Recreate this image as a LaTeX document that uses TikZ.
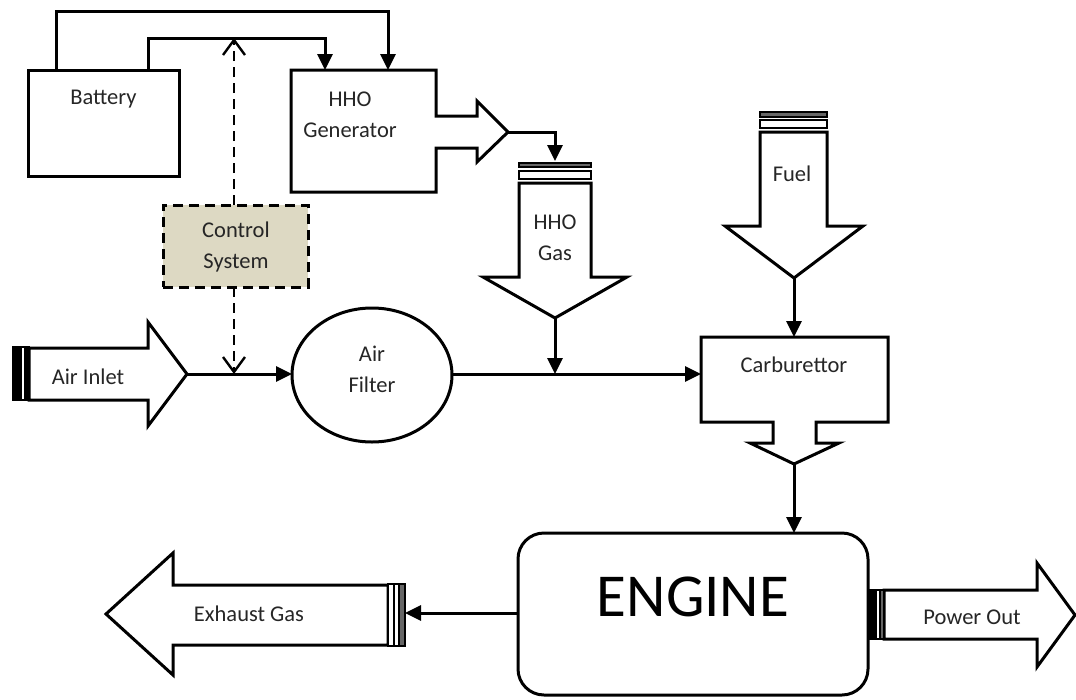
\documentclass[tikz,border=0pt]{standalone}
\usepackage{fontspec}
\setmainfont{Carlito}
\usetikzlibrary{arrows.meta,shapes.geometric}
\definecolor{ctrlfill}{HTML}{DDD9C3}
\definecolor{txtc}{HTML}{262626}
\tikzset{
  shape line/.style={draw=black, line width=3pt, line join=miter, fill=white},
  wire/.style={draw=black, line width=3pt, -{Triangle[length=16pt,width=15pt]}},
  ctrl wire/.style={draw=black, line width=2.6pt, dash pattern=on 10pt off 6pt, -{Straight Barb[length=15pt,width=22pt,line width=2.4pt]}},
  lbl/.style={text=txtc, font=\fontsize{22.5}{24}\selectfont, inner sep=0pt},
  capgray/.style={draw=black, line width=2pt, fill=black!60},
  capwhite/.style={draw=black, line width=2pt, fill=white},
  capblack/.style={draw=black, line width=2pt, fill=black},
}
\begin{document}
\begin{tikzpicture}[x=1pt,y=-1pt]
\useasboundingbox (0,0) rectangle (1076,699);

% Battery
\node[shape line, minimum width=151pt, minimum height=106pt, inner sep=0pt] (bat) at (103.5,123) {};
\node[lbl] (batlbl) at (103.5,99) {Battery};

% HHO generator with outlet arrow
\draw[shape line] (291,70) -- (436,70) -- (436,116) -- (477,116) -- (477,101) -- (508,132)
  -- (477,162) -- (477,148) -- (436,148) -- (436,192) -- (291,192) -- cycle;
\coordinate (hhotip) at (508,132);
\node[lbl, align=center] (hholbl) at (350,115) {HHO\\[7pt]Generator};

% Wires from battery to generator
\coordinate (batA) at (56,70);
\coordinate (batB) at (148,70);
\coordinate (genA) at (388,70);
\coordinate (genB) at (325,70);
\draw[wire] (batA) -- (56,11) -- (388,11) -- (genA);
\draw[wire] (batB) -- (148,38) -- (325,38) -- (genB);
\coordinate (ctrltop) at (234,38);

% HHO gas arrow
\draw[capgray] (519,163) rectangle (591,167);
\draw[capwhite] (519,171) rectangle (591,179);
\draw[shape line] (519,183) -- (591,183) -- (591,277) -- (627,277) -- (555,318) -- (483,277) -- (519,277) -- cycle;
\coordinate (gastop) at (555,161);
\coordinate (gastip) at (555,318);
\node[lbl, align=center] (gaslbl) at (555,238) {HHO\\[7pt]Gas};
\draw[wire] (hhotip) -- (555,132) -- (gastop);

% Fuel arrow
\draw[capgray] (760,112) rectangle (827,117);
\draw[capwhite] (760,120) rectangle (827,128);
\draw[shape line] (760,132) -- (827,132) -- (827,226) -- (863,226) -- (794,278) -- (725,226) -- (760,226) -- cycle;
\coordinate (fueltip) at (794,278);
\node[lbl] (fuellbl) at (792,174) {Fuel};

% Carburettor
\draw[shape line] (701,337) -- (888,337) -- (888,422) -- (816,422) -- (816,443) -- (839,443) -- (794,464)
  -- (750,443) -- (773,443) -- (773,422) -- (701,422) -- cycle;
\coordinate (carbtop) at (794,337);
\coordinate (carbleft) at (701,374);
\coordinate (carbtip) at (794,464);
\node[lbl] (carblbl) at (794,365) {Carburettor};
\draw[wire] (fueltip) -- (carbtop);

% Air inlet
\draw[shape line] (29,348) -- (148,348) -- (148,322) -- (187,374) -- (148,426) -- (148,400) -- (29,400) -- cycle;
\draw[capblack] (13,347) rectangle (21,400);
\draw[capwhite] (21,347) rectangle (25,400);
\draw[capblack] (25,347) rectangle (29,400);
\coordinate (airtip) at (187,374);
\node[lbl] (airlbl) at (88,377) {Air Inlet};

% Air filter
\node[shape line, ellipse, minimum width=160pt, minimum height=134pt, inner sep=0pt] (filter) at (372,375) {};
\node[lbl, align=center] (filterlbl) at (372,369) {Air\\[7pt]Filter};

\coordinate (filterL) at (292,374);
\coordinate (filterR) at (452,374);
\coordinate (join) at (555,374);
\draw[wire] (airtip) -- (filterL);
\draw[wire] (filterR) -- (carbleft);
\draw[wire] (gastip) -- (join);

% Control system
\node[draw=black, line width=3pt, dash pattern=on 10pt off 6pt, fill=ctrlfill, minimum width=145pt, minimum height=82pt, inner sep=0pt] (ctrl) at (235.5,246) {};
\node[lbl, align=center] (ctrllbl) at (236,247) {Control\\[7pt]System};
\coordinate (ctrlbottom) at (234,374);
\draw[ctrl wire] (234,205) -- (ctrltop);
\draw[ctrl wire] (234,287) -- (ctrlbottom);

% Engine
\draw[shape line, rounded corners=26pt] (518,533) rectangle (868,695);
\coordinate (engtop) at (794,533);
\coordinate (engleft) at (518,613);
\node[text=black, font=\fontsize{61}{64}\selectfont, inner sep=0pt] (englbl) at (693,597) {ENGINE};
\draw[wire] (carbtip) -- (engtop);

% Exhaust gas
\draw[shape line] (388,585) -- (173,585) -- (173,553) -- (106,614) -- (173,675) -- (173,645) -- (388,645) -- cycle;
\draw[capwhite] (388,584) rectangle (394,646);
\draw[capwhite] (394,584) rectangle (399,646);
\draw[capgray] (399,584) rectangle (405,646);
\coordinate (exhcap) at (405,613);
\node[lbl] (exhlbl) at (249,614) {Exhaust Gas};
\draw[wire] (engleft) -- (exhcap);

% Power out
\draw[shape line] (884,590) -- (1037,590) -- (1037,563) -- (1075,615) -- (1037,667) -- (1037,639) -- (884,639) -- cycle;
\draw[capblack] (868,590) rectangle (876,639);
\draw[capwhite] (876,590) rectangle (880,639);
\draw[capgray] (880,590) rectangle (884,639);
\node[lbl] (powlbl) at (972,617) {Power Out};
\end{tikzpicture}
\end{document}
